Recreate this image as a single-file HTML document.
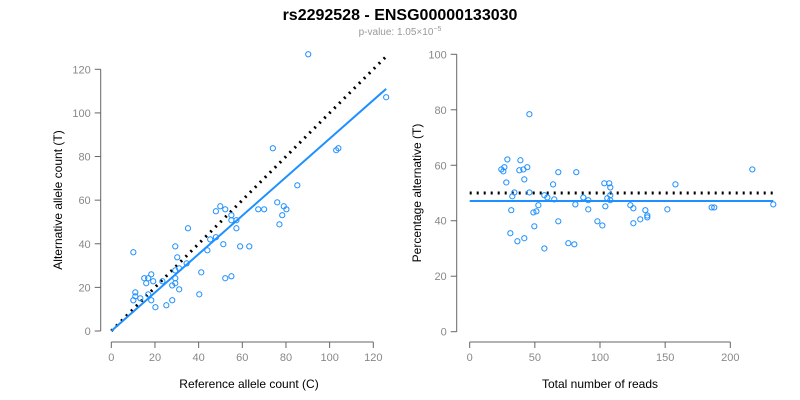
<!DOCTYPE html>
<html><head><meta charset="utf-8"><style>
body{margin:0;background:#fff;}
svg{display:block;font-family:"Liberation Sans",Arial,sans-serif;}
</style></head><body>
<svg id="c" width="800" height="400">
<rect width="800" height="400" fill="#fff"/>
<text x="400" y="20" text-anchor="middle" font-size="16" font-weight="bold" fill="#000">rs2292528 - ENSG00000133030</text>
<text x="400" y="35" text-anchor="middle" font-size="10" fill="#999">p-value: 1.05×10<tspan dy="-4" font-size="7">−5</tspan></text>
<text x="249" y="388" text-anchor="middle" font-size="12" fill="#000">Reference allele count (C)</text>
<text transform="translate(62,200) rotate(-90)" text-anchor="middle" font-size="12" fill="#000">Alternative allele count (T)</text>
<text x="600" y="388" text-anchor="middle" font-size="12" fill="#000">Total number of reads</text>
<text transform="translate(421,193) rotate(-90)" text-anchor="middle" font-size="12" fill="#000">Percentage alternative (T)</text>
</svg>
<script>
const refCounts=[90.2,125.9,74,103,104,85.2,76,79,80.2,78.3,77,67.3,70,49.9,47.9,52.2,55,55,57.3,57.3,35.1,47.9,45.3,44,51.3,59,63.2,29.3,30.2,34.5,31.1,29.3,29.3,29.3,27.9,31.1,41.2,52.2,55,40.3,27.9,25.2,20.2,10.1,18.3,15.1,16.9,16,19.2,23.4,11,11,10.1,13.3,16.9,18.3];
const altCounts=[126.9,107.2,83.8,82.9,83.8,66.8,59,57.2,55.8,53.1,48.9,55.8,55.8,57.2,54.9,55.8,53.1,50.8,50.8,47.1,47.1,43,42,37,39.8,38.8,38.8,38.8,33.8,31,28.7,27.8,24.2,21.9,20.9,19.1,26.9,24.2,25.1,16.8,14.1,11.8,10.9,36.1,26,24.2,24.2,21.9,22.8,22.8,17.7,15.9,14.1,15,16.8,14.1];
const fitSlope=0.882;
const leftXTicks=[0,20,40,60,80,100,120];
const leftYTicks=[0,20,40,60,80,100,120];
const totalReads=[45.8,28.9,38.9,24.3,26.6,25.8,38.1,41.2,44.2,41.9,28.1,34.3,32.7,45.8,68,81.8,64,57.3,59.6,64.9,52.7,48.9,51.2,31.9,49.6,68,31.2,36.6,41.9,57.3,75.7,80.3,81.1,87.2,91,91,98,101.8,103.3,107.1,107.9,107.9,105.6,107.9,104.1,123.3,125.6,125.6,130.9,134.8,136.3,136.3,151.7,157.9,185.7,187.7,216.9,233];
const pctAlt=[78.4,62.1,61.8,58.5,59.3,57.8,58.2,58.5,59.3,54.9,53.8,50.2,48.8,50.2,57.5,57.5,53.1,49.2,48.4,47.7,45.6,43,43.4,43.8,38,39.8,35.5,32.6,33.7,30,31.9,31.5,45.9,48.4,47.4,44.1,39.8,38.3,53.5,53.5,52,49.2,48.1,47.4,45.2,45.6,44.5,39.1,40.5,43.8,41.9,41.2,44.1,53.1,44.8,44.8,58.5,45.9];
const meanPct=47.1;
const expectedPct=50;
const rightXTicks=[0,50,100,150,200];
const rightYTicks=[0,20,40,60,80,100];

const NS="http://www.w3.org/2000/svg",svg=document.getElementById('c');
function mk(t,a,p){const e=document.createElementNS(NS,t);for(const k in a)e.setAttribute(k,a[k]);(p||svg).appendChild(e);return e;}
const lx=v=>111.3+v*(373.3-111.3)/120, ly=v=>331-v*(331-69.3)/120;
const rx=v=>469.7+v*(730.3-469.7)/200, ry=v=>331.7-v*(331.7-54.3)/100;
const axc='#666';
function axes(xs,ys,fx,fy,yAxX,xAxY,pre){
  let g=mk('g',{});
  
  
  mk('line',{x1:fx(xs[0]),x2:fx(xs[xs.length-1]),y1:xAxY,y2:xAxY,stroke:axc},g);
  xs.forEach(t=>{mk('line',{x1:fx(t),x2:fx(t),y1:xAxY,y2:xAxY+6,stroke:axc},g);
    const tx=mk('text',{x:fx(t),y:xAxY+19,'text-anchor':'middle','font-size':11,fill:'#888'},g);tx.textContent=t;});
  let g2=mk('g',{});
  
  
  mk('line',{x1:yAxX,x2:yAxX,y1:fy(ys[0]),y2:fy(ys[ys.length-1]),stroke:axc},g2);
  ys.forEach(t=>{mk('line',{x1:yAxX-6,x2:yAxX,y1:fy(t),y2:fy(t),stroke:axc},g2);
    const tx=mk('text',{x:yAxX-10,y:fy(t)+4,'text-anchor':'end','font-size':11,fill:'#888'},g2);tx.textContent=t;});
}
axes(leftXTicks,leftYTicks,lx,ly,100.7,342,'left');
axes(rightXTicks,rightYTicks,rx,ry,456.7,342,'right');
const maxL=Math.max(...refCounts);
let e=mk('line',{x1:lx(0),y1:ly(0),x2:lx(maxL),y2:ly(maxL),stroke:'#000','stroke-width':3,'stroke-dasharray':'2 5'});


e=mk('line',{x1:lx(0),y1:ly(0),x2:lx(maxL),y2:ly(maxL*fitSlope),stroke:'#1e90ff','stroke-width':2});


refCounts.forEach((v,i)=>{const c=mk('circle',{cx:lx(v),cy:ly(altCounts[i]),r:2.6,fill:'none',stroke:'#1e90ff','stroke-width':1});

});
const maxR=Math.max(...totalReads);
e=mk('line',{x1:rx(0),y1:ry(expectedPct),x2:rx(maxR),y2:ry(expectedPct),stroke:'#000','stroke-width':3,'stroke-dasharray':'2 5'});


e=mk('line',{x1:rx(0),y1:ry(meanPct),x2:rx(maxR),y2:ry(meanPct),stroke:'#1e90ff','stroke-width':2});


totalReads.forEach((v,i)=>{const c=mk('circle',{cx:rx(v),cy:ry(pctAlt[i]),r:2.6,fill:'none',stroke:'#1e90ff','stroke-width':1});

});
</script>
</body></html>
